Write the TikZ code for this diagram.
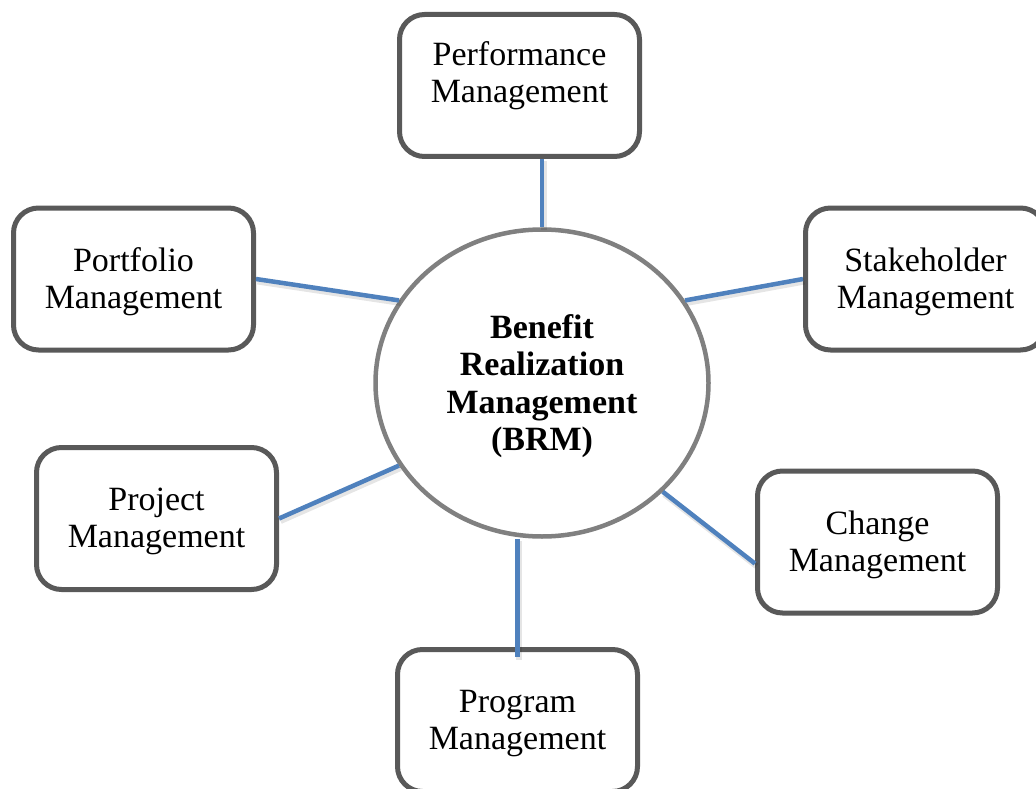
\documentclass[tikz,border=0pt]{standalone}
\usepackage{fontspec}
\setmainfont{Liberation Serif}
\usetikzlibrary{shapes.geometric,calc}
\definecolor{boxgray}{RGB}{89,89,89}
\definecolor{circgray}{RGB}{128,128,128}
\definecolor{linkblue}{RGB}{79,129,189}
\begin{document}
\begin{tikzpicture}[x=1pt,y=-1pt,
  box/.style={draw=boxgray, line width=5pt, rounded corners=25pt,
    minimum width=240pt, minimum height=142pt, fill=white, align=center,
    font=\fontsize{34}{37}\selectfont, inner sep=0pt, text depth=1pt},
  hub/.style={ellipse, draw=circgray, line width=4.5pt, minimum width=333pt,
    minimum height=307pt, fill=white, align=center,
    font=\bfseries\fontsize{34}{37.3}\selectfont, inner sep=0pt, text depth=1pt},
  link/.style={draw=linkblue, line width=4.5pt},
  linkshadow/.style={draw=black, opacity=0.10, line width=6pt,
    transform canvas={shift={(1.5,2.5)}}}
]
\useasboundingbox (0,0) rectangle (1036,789);
\clip (0,0) rectangle (1036,789);
\fill[white] (0,0) rectangle (1036,789);

\node[hub] (hub) at (542,383) {Benefit\\Realization\\Management\\(BRM)};

\node[box, text depth=27pt] (perf) at (519.5,85.5) {Performance\\Management};
\node[box] (port) at (133.5,279) {Portfolio\\Management};
\node[box] (stake) at (925.5,279) {Stakeholder\\Management};
\node[box] (proj) at (156.5,518.5) {Project\\Management};
\node[box] (change) at (877.5,542) {Change\\Management};
\node[box] (prog) at (517.5,720.5) {Program\\Management};

\foreach \a/\b in {{hub.north}/{hub.north |- perf.south},
                   {hub.30}/{stake.west},
                   {hub.150}/{port.east},
                   {hub.210}/{proj.east},
                   {hub.318}/{change.190}}{
  \draw[linkshadow] (\a) -- (\b);
  \draw[link] (\a) -- (\b);
}
\coordinate (progin) at ($(prog.north)+(0,10)$);
\draw[linkshadow] (prog.north |- hub.south) -- (progin);
\draw[link] (prog.north |- hub.south) -- (progin);
\end{tikzpicture}
\end{document}
